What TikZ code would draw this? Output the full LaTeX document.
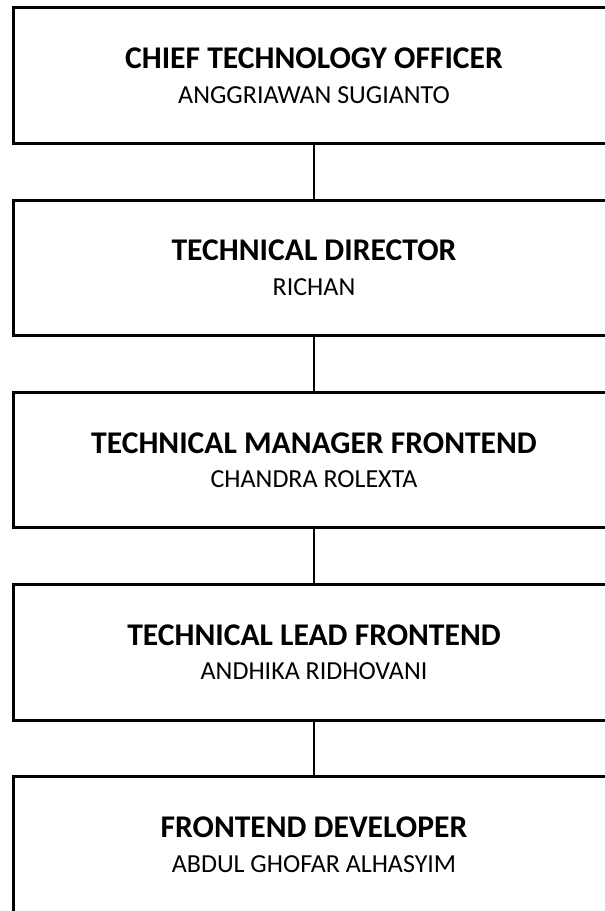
\documentclass[tikz,border=0pt]{standalone}
\usepackage{fontspec}
\setmainfont{Carlito}
\usepackage{tikz}
\usetikzlibrary{positioning}
\tikzstyle{rolebox} =[
    draw=black,
    line width=3pt,
    rectangle,
    minimum width=602pt,
    minimum height=135.5pt,
    outer sep=0pt,
    align=center,
    font=\fontsize{26}{34.5}\selectfont
    ]
\tikzstyle{link} =[
    draw=black,
    line width=1.5pt
    ]
\newcommand{\roletitle}[1]{{\bfseries\fontsize{31.6}{34.5}\selectfont #1}}

\begin{document}
\begin{tikzpicture}[x=1pt,y=1pt,node distance=56.8pt]
\useasboundingbox (0,0) rectangle (605,-911);
\node [rolebox] (cto) at (314,-75.5) {\roletitle{CHIEF TECHNOLOGY OFFICER}\\ANGGRIAWAN SUGIANTO};
\node [rolebox, below=of cto] (td) {\roletitle{TECHNICAL DIRECTOR}\\RICHAN};
\node [rolebox, below=of td] (tmf) {\roletitle{TECHNICAL MANAGER FRONTEND}\\CHANDRA ROLEXTA};
\node [rolebox, below=of tmf] (tlf) {\roletitle{TECHNICAL LEAD FRONTEND}\\ANDHIKA RIDHOVANI};
\node [rolebox, below=of tlf] (fed) {\roletitle{FRONTEND DEVELOPER}\\ABDUL GHOFAR ALHASYIM};
% reporting lines
\draw [link] (cto) -- (td);
\draw [link] (td) -- (tmf);
\draw [link] (tmf) -- (tlf);
\draw [link] (tlf) -- (fed);
\end{tikzpicture}
\end{document}
